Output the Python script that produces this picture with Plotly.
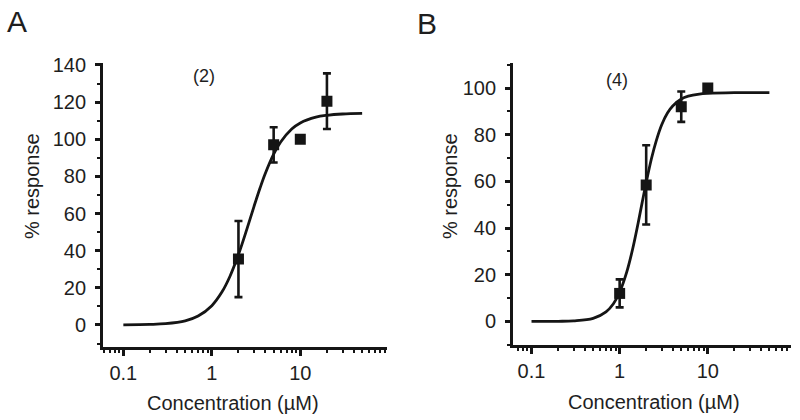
"""
Curvas concentração-resposta (painéis A e B)
"""

import plotly.graph_objects as go

# Painel A - pontos medidos
conc_a = [2, 5, 10, 20]
resp_a = [35.5, 97, 100, 120.5]
erro_a = [20.5, 9.5, 0, 15]

# Painel A - curva ajustada
curva_x_a = [0.1, 0.2, 0.3, 0.5, 0.7, 1, 1.3, 1.6, 2, 2.5, 3, 3.5, 4, 5, 6, 8, 10, 15, 20, 30, 50]
curva_y_a = [0.05, 0.3, 0.7, 2.2, 4.8, 10.4, 17.7, 26.1, 37.9, 51.9, 63.9, 73.6, 81.3, 92.0,
             98.5, 105.5, 108.8, 111.9, 112.9, 113.6, 113.9]

# Painel B - pontos medidos
conc_b = [1, 2, 5, 10]
resp_b = [12, 58.5, 92, 100]
erro_b = [6, 17, 6.5, 0]

# Painel B - curva ajustada
curva_x_b = [0.1, 0.2, 0.3, 0.5, 0.7, 0.85, 1, 1.2, 1.4, 1.6, 1.8, 2, 2.3, 2.6, 3, 3.5, 4, 5,
             6, 8, 10, 20, 50]
curva_y_b = [0.0, 0.06, 0.24, 1.3, 4.1, 7.6, 12.5, 21.0, 30.8, 41.1, 50.9, 59.5, 69.9, 77.4,
             84.3, 89.4, 92.3, 95.3, 96.5, 97.4, 97.7, 98.0, 98.0]

# Eixos
ticks_x = [0.1, 1, 10]
rotulos_x = ["0.1", "1", "10"]
ticks_x_menores = [0.06, 0.07, 0.08, 0.09, 0.2, 0.3, 0.4, 0.5, 0.6, 0.7, 0.8, 0.9,
                   2, 3, 4, 5, 6, 7, 8, 9, 20, 30, 40, 50, 60, 70, 80, 90]
ticks_y_a = [0, 20, 40, 60, 80, 100, 120, 140]
ticks_y_a_menores = [-10, 10, 30, 50, 70, 90, 110, 130]
ticks_y_b = [0, 20, 40, 60, 80, 100]
ticks_y_b_menores = [-10, 10, 30, 50, 70, 90, 110]

COR = "#151515"
COR_TEXTO = "#1e1e1e"
FONTE = "Liberation Sans"
W, H = 800, 420


def px(x, y):
    """Converte pixels da janela em coordenadas do papel"""
    return x / W, 1 - y / H


def dom_x(a, b):
    return [px(a, 0)[0], px(b, 0)[0]]


def dom_y(baixo, topo):
    return [px(0, baixo)[1], px(0, topo)[1]]


def eixo_x(dominio, faixa, ancora):
    return dict(
        type="log",
        domain=dominio,
        range=faixa,
        anchor=ancora,
        automargin=False,
        tickmode="array",
        tickvals=ticks_x,
        ticktext=rotulos_x,
        ticks="outside",
        ticklen=6,
        tickwidth=2.5,
        tickcolor=COR,
        showline=True,
        linewidth=2.8,
        linecolor=COR,
        showgrid=False,
        zeroline=False,
        tickfont=dict(family=FONTE, size=20, color=COR_TEXTO),
        minor=dict(tickmode="array", tickvals=ticks_x_menores, ticks="outside",
                   ticklen=3, tickwidth=2, tickcolor=COR, showgrid=False),
    )


def eixo_y(dominio, faixa, ancora, vals, menores):
    return dict(
        domain=dominio,
        range=faixa,
        anchor=ancora,
        automargin=False,
        tickmode="array",
        tickvals=vals,
        ticks="outside",
        ticklen=5,
        tickwidth=2.5,
        tickcolor=COR,
        showline=True,
        linewidth=2.8,
        linecolor=COR,
        showgrid=False,
        zeroline=False,
        ticklabelstandoff=5,
        tickfont=dict(family=FONTE, size=20, color=COR_TEXTO),
        minor=dict(tickmode="array", tickvals=menores, ticks="outside",
                   ticklen=3, tickwidth=2, tickcolor=COR, showgrid=False),
    )


def adicionar_painel(fig, cx, cy, x, y, erro, eixo_x_nome, eixo_y_nome):
    fig.add_trace(go.Scatter(
        x=cx, y=cy, mode="lines", line=dict(color=COR, width=2.8, shape="spline"),
        xaxis=eixo_x_nome, yaxis=eixo_y_nome, showlegend=False, hoverinfo="skip"
    ))
    fig.add_trace(go.Scatter(
        x=x, y=y, mode="markers",
        marker=dict(symbol="square", size=11, color=COR),
        error_y=dict(type="data", array=erro, visible=True, color=COR, thickness=2.6, width=4),
        xaxis=eixo_x_nome, yaxis=eixo_y_nome, showlegend=False
    ))


fig = go.Figure()
adicionar_painel(fig, curva_x_a, curva_y_a, conc_a, resp_a, erro_a, "x", "y")
adicionar_painel(fig, curva_x_b, curva_y_b, conc_b, resp_b, erro_b, "x2", "y2")

anotacoes = [
    ("A", 17, 21, 30, 0),
    ("B", 427, 23, 30, 0),
    ("(2)", 204, 76, 18, 0),
    ("(4)", 617, 80, 18, 0),
    ("% response", 32, 186, 20, -90),
    ("% response", 450, 186, 20, -90),
    ("Concentration (\u00b5M)", 233, 403, 20, 0),
    ("Concentration (\u00b5M)", 654, 402, 20, 0),
]
for texto, ax, ay, tam, rot in anotacoes:
    xp, yp = px(ax, ay)
    fig.add_annotation(
        x=xp, y=yp, xref="paper", yref="paper", text=texto, showarrow=False,
        xanchor="center", yanchor="middle", textangle=rot,
        font=dict(family=FONTE, size=tam, color=COR_TEXTO)
    )

fig.update_layout(
    width=W,
    height=H,
    margin=dict(l=0, r=0, t=0, b=0, autoexpand=False),
    plot_bgcolor="white",
    paper_bgcolor="white",
    showlegend=False,
    xaxis=eixo_x(dom_x(103, 387), [-1.23, 1.98], "y"),
    yaxis=eixo_y(dom_y(346.7, 63.3), [-11.7, 140.9], "x", ticks_y_a, ticks_y_a_menores),
    xaxis2=eixo_x(dom_x(513, 791), [-1.21, 1.944], "y2"),
    yaxis2=eixo_y(dom_y(345, 63.3), [-10.1, 110.6], "x2", ticks_y_b, ticks_y_b_menores),
)

# tira a margem padrão do <body> para a figura ocupar a janela toda
fig.write_html(
    "out.html",
    config={"displayModeBar": False},
    post_script="document.body.style.margin = '0';",
)
